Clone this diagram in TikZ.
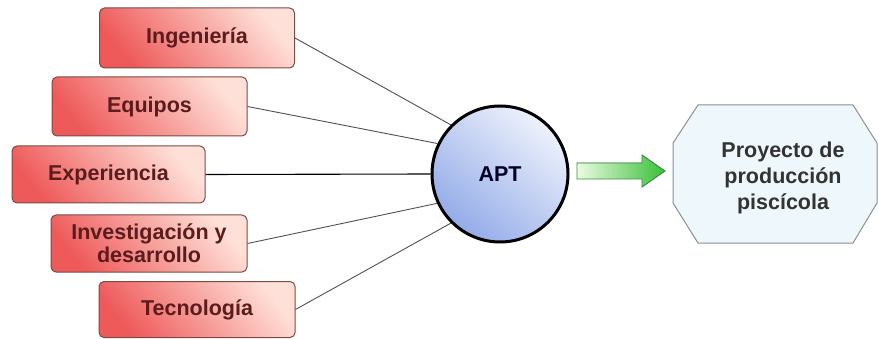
\documentclass[tikz,border=0pt]{standalone}
\usepackage{fontspec}
\setmainfont{Liberation Sans}
\usetikzlibrary{calc}
\definecolor{boxred}{HTML}{EE5A5A}
\definecolor{boxpink}{HTML}{FFE0D8}
\definecolor{boxedge}{HTML}{7A4A44}
\definecolor{boxtext}{HTML}{5A1C1C}
\definecolor{ballblue}{HTML}{93ABE8}
\definecolor{balllight}{HTML}{EEF2FC}
\definecolor{arrlight}{HTML}{EAFBE2}
\definecolor{arrgreen}{HTML}{38C038}
\definecolor{arredge}{HTML}{3C8A3C}
\definecolor{octfill}{HTML}{EEF7FB}
\definecolor{octedge}{HTML}{8A9094}
\definecolor{linegray}{HTML}{505050}
\tikzset{
  factor/.style={draw=boxedge, line width=1pt, rounded corners=5pt,
    top color=boxpink, bottom color=boxred, shading angle=-50,
    text=boxtext, font=\bfseries\fontsize{21.5}{23}\selectfont, align=center,
    inner sep=0pt},
  link/.style={draw=linegray, line width=0.9pt},
}
\begin{document}
\begin{tikzpicture}[x=1pt,y=-1pt]
\useasboundingbox (0,0) rectangle (878,339);
% factor boxes
\node[factor, minimum width=195pt, minimum height=60pt] (ing) at (197,38) {Ingeniería};
\node[factor, minimum width=195pt, minimum height=59pt] (equ) at (149.5,106.5) {Equipos};
\node[factor, minimum width=193pt, minimum height=57pt] (exp) at (108.5,174.5) {Experiencia};
\node[factor, minimum width=196pt, minimum height=57pt] (inv) at (149,243.5) {Investigación y\\desarrollo};
\node[factor, minimum width=196pt, minimum height=56pt] (tec) at (197,309.5) {Tecnología};
% central circle
\node[circle, draw=black, line width=3pt, minimum size=136pt, inner sep=0pt,
  top color=balllight, bottom color=ballblue, shading angle=-40,
  text=black!85!blue, font=\bfseries\fontsize{21.5}{23}\selectfont] (apt) at (500,174) {APT};
% connectors
\draw[link] (ing.east) -- (apt.135);
\draw[link] (equ.east) -- (apt.154);
\draw[link, draw=black, line width=1.1pt] (exp.east) -- (apt.180);
\draw[link] (inv.east) -- (apt.205);
\draw[link] (tec.east) -- (apt.225);
% block arrow
\filldraw[draw=arredge, line width=0.9pt, left color=arrlight, right color=arrgreen]
  (577,163) -- (642,163) -- (642,155) -- (665,171) -- (642,187) -- (642,179) -- (577,179) -- cycle;
% octagon
\filldraw[draw=octedge, line width=1pt, fill=octfill]
  (698,105) -- (853,105) -- (877,143) -- (877,203) -- (853,243) -- (698,243) -- (673,203) -- (673,143) -- cycle;
\node[text=black!80, font=\bfseries\fontsize{21.5}{26}\selectfont, align=center] (proj) at (783,178)
  {Proyecto de\\producción\\piscícola};
\end{tikzpicture}
\end{document}
